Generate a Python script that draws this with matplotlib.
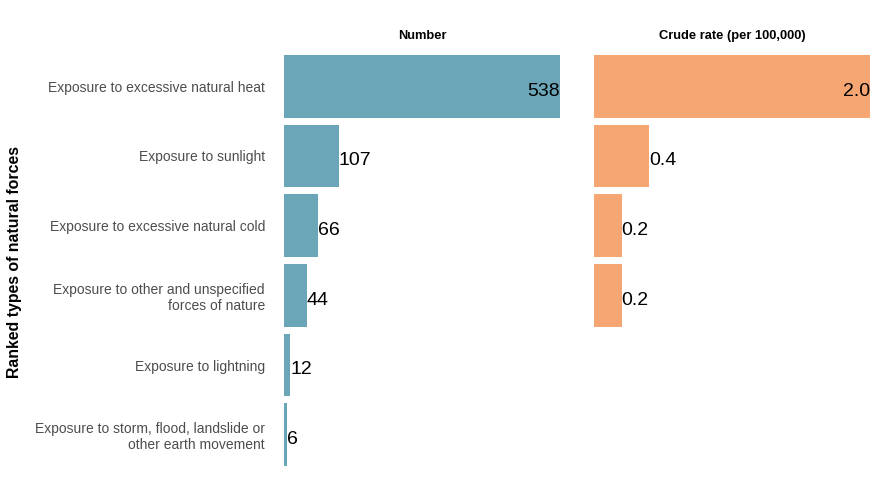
import matplotlib.pyplot as plt

# --- Data ---
categories = [
    'Exposure to excessive natural heat',
    'Exposure to sunlight',
    'Exposure to excessive natural cold',
    'Exposure to other and unspecified\nforces of nature',
    'Exposure to lightning',
    'Exposure to storm, flood, landslide or\nother earth movement',
]
numbers = [538, 107, 66, 44, 12, 6]
rates = [2.0, 0.4, 0.2, 0.2, None, None]

BLUE = '#6aa5b8'
ORANGE = '#f6a672'

plt.rcParams['font.family'] = ['Liberation Sans', 'DejaVu Sans']


def draw_panel(ax, values, color, fmt, title):
    pos = list(range(len(categories)))
    vmax = max(v for v in values if v is not None)
    for y, v in zip(pos, values):
        if v is None:
            continue
        ax.barh(y, v, height=0.9, color=color)
        # ggplot-like "inward" justification
        ha = 'right' if v > vmax / 2 else 'left'
        ax.text(v, y + 0.04, fmt(v), ha=ha, va='center_baseline', fontsize=14, color='black')
    ax.set_xlim(0, vmax)
    ax.set_ylim(len(categories) - 0.5, -0.5)
    ax.set_title(title, fontsize=9.3, fontweight='bold', pad=9)
    ax.set_xticks([])
    for s in ax.spines.values():
        s.set_visible(False)


fig = plt.figure(figsize=(8.9, 5.0), dpi=100)
ax1 = fig.add_axes([284 / 890, 1 - 469.5 / 500, 276 / 890, 418 / 500])
ax2 = fig.add_axes([594 / 890, 1 - 469.5 / 500, 276 / 890, 418 / 500])

draw_panel(ax1, numbers, BLUE, lambda v: f'{v:d}', 'Number')
draw_panel(ax2, rates, ORANGE, lambda v: f'{v:.1f}', 'Crude rate (per 100,000)')

ax1.set_yticks(range(len(categories)))
ax1.set_yticklabels(categories, fontsize=10, color='#4d4d4d')
ax1.tick_params(axis='y', length=0, pad=13.7)
ax2.set_yticks([])

fig.text(15 / 890, 1 - 262 / 500, 'Ranked types of natural forces', rotation=90,
         ha='center', va='center', fontsize=11.4, fontweight='bold')

fig.savefig('out.png', dpi=100)
